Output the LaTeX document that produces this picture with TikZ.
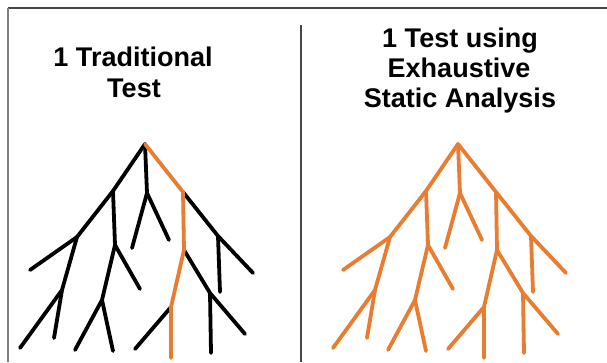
\documentclass[tikz,border=0pt]{standalone}
\usepackage{fontspec}
\setmainfont{Liberation Sans}
\definecolor{branchorange}{RGB}{232,124,48}
\definecolor{frameline}{RGB}{70,70,70}
\tikzset{
  limb/.style={line width=3.8pt, line cap=round, line join=round},
  title/.style={font=\fontsize{27}{31}\selectfont\bfseries, inner sep=0pt, anchor=base},
}
% One branching tree; styles "plain" and "route" colour its segments
\newcommand\branchtree{%
  \coordinate (top) at (145,144);
  \coordinate (a) at (113,191); \coordinate (b) at (77,237); \coordinate (c) at (30,270);
  \coordinate (d) at (147,193); \coordinate (e) at (132,248); \coordinate (f) at (169,240);
  \coordinate (g) at (115,245); \coordinate (h) at (140,289); \coordinate (i) at (102,300);
  \coordinate (j) at (75,350);  \coordinate (k) at (113,351);
  \coordinate (l) at (62,290);  \coordinate (m) at (54,338);  \coordinate (n) at (20,348);
  \coordinate (o1) at (183,192); \coordinate (o2) at (184,250);
  \coordinate (o3) at (171,307); \coordinate (o4) at (171,358);
  \coordinate (p) at (218,236); \coordinate (q) at (253,273); \coordinate (r) at (220,292);
  \coordinate (s) at (210,293); \coordinate (t) at (245,334); \coordinate (u) at (211,353);
  \coordinate (v) at (135,349);
  \draw[limb, plain] (top) -- (a) -- (b) -- (c);
  \draw[limb, plain] (top) -- (d) -- (e);
  \draw[limb, plain] (d) -- (f);
  \draw[limb, plain] (a) -- (g) -- (i) -- (j);
  \draw[limb, plain] (g) -- (h);
  \draw[limb, plain] (i) -- (k);
  \draw[limb, plain] (b) -- (l) -- (m);
  \draw[limb, plain] (l) -- (n);
  \draw[limb, plain] (o1) -- (p) -- (q);
  \draw[limb, plain] (p) -- (r);
  \draw[limb, plain] (o2) -- (s) -- (t);
  \draw[limb, plain] (s) -- (u);
  \draw[limb, plain] (o3) -- (v);
  \draw[limb, route] (top) -- (o1) -- (o2) -- (o3) -- (o4);
}
\begin{document}
\begin{tikzpicture}[x=1pt, y=-1pt]
  \useasboundingbox (0,0) rectangle (607,362);
  \fill[white] (0,0) rectangle (607,362);
  % frame and divider
  \coordinate (frameTL) at (8,8);
  \coordinate (frameTR) at (607,8);
  \coordinate (frameBL) at (8,362);
  \coordinate (divTop) at (301,25);
  \coordinate (divBot) at (301,362);
  \draw[frameline, line width=1.5pt] (frameTR) -- (frameTL);
  \draw[gray, line width=1.5pt] (frameTL) -- (frameBL);
  \draw[frameline, line width=1.8pt] (divTop) -- (divBot);
  % titles, one node per line on its baseline
  \node[title] (leftTitleA) at (133,66) {1 Traditional};
  \node[title] (leftTitleB) at (134,97) {Test};
  \node[title] (rightTitleA) at (460,47) {1 Test using};
  \node[title] (rightTitleB) at (459,77) {Exhaustive};
  \node[title] (rightTitleC) at (460,107) {Static Analysis};
  % trees
  \begin{scope}[name prefix=L-, plain/.style={black}, route/.style={branchorange}]
    \branchtree
  \end{scope}
  \begin{scope}[xshift=313pt, name prefix=R-, plain/.style={branchorange}, route/.style={branchorange}]
    \branchtree
  \end{scope}
\end{tikzpicture}
\end{document}
